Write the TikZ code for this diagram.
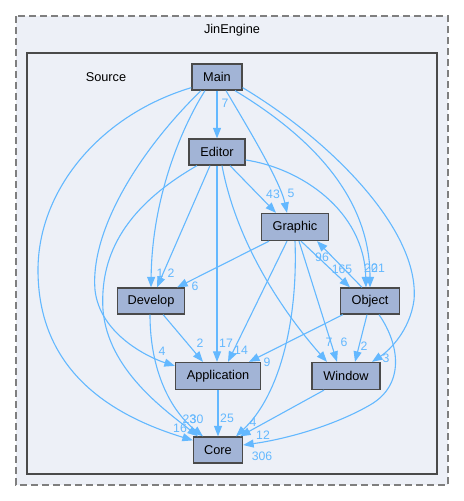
\documentclass[tikz,border=0pt]{standalone}
\usepackage{fontspec}
\setmainfont{Liberation Sans}
\usetikzlibrary{arrows.meta,calc}
\definecolor{edgec}{HTML}{63B8FF}
\definecolor{nodef}{HTML}{A2B4D6}
\definecolor{bgc}{HTML}{EDF0F7}
\definecolor{borderc}{HTML}{4A4A4A}
\definecolor{dashc}{HTML}{7F7F7F}
\begin{document}
\begin{tikzpicture}[x=1bp,y=-1bp,
  dirbox/.style={draw=borderc, fill=nodef, line width=1.3bp, inner sep=0pt,
    minimum height=26bp, font=\fontsize{12.8}{14}\selectfont},
  dep/.style={draw=edgec, line width=1.1bp, -{Triangle[length=10.5bp,width=8bp]}},
  lab/.style={text=edgec, inner sep=0pt, font=\fontsize{12.3}{14}\selectfont},
  ttl/.style={inner sep=0pt, font=\fontsize{12.8}{14}\selectfont}]
\useasboundingbox (0,0) rectangle (464,501);
% clusters
\draw[dashc, fill=bgc, line width=1.8bp, dash pattern=on 7bp off 4bp] (16,16) rectangle (448,485);
\draw[borderc, fill=bgc, line width=2bp] (27,53) rectangle (437,474);
\node[ttl] (title) at (232,30) {JinEngine};
\node[ttl] (src) at (106,77) {Source};
% nodes
\node[dirbox, minimum width=50bp] (Main) at (217,77) {Main};
\node[dirbox, minimum width=56bp] (Editor) at (217,152) {Editor};
\node[dirbox, minimum width=67bp, minimum height=27bp] (Graphic) at (295,227) {Graphic};
\node[dirbox, minimum width=67bp] (Develop) at (151,301) {Develop};
\node[dirbox, minimum width=59bp] (Object) at (370,301) {Object};
\node[dirbox, minimum width=85bp, minimum height=27bp] (Application) at (218,376) {Application};
\node[dirbox, minimum width=68bp, minimum height=27bp] (Window) at (346,376) {Window};
\node[dirbox, minimum width=49bp] (Core) at (218,450) {Core};
% edges from Main
\draw[dep] (Main.south) -- (Main.south |- Editor.north);
\draw[dep] ($(Main.south)+(9,0)$) .. controls (242,118) and (280,180) .. ($(Graphic.north)+(-8,0)$);
\draw[dep] ($(Main.south)+(18,0)$) .. controls (300,130) and (370,190) .. (Object.north);
\draw[dep] ($(Main.south east)+(0,-3)$) .. controls (330,140) and (420,230) .. (414,300)
  .. controls (410,330) and (390,350) .. ($(Window.north)+(26,0)$);
\draw[dep] ($(Main.south)+(-12,0)$) .. controls (180,130) and (152,200) .. ($(Develop.north)+(0,0)$);
\draw[dep] ($(Main.south)+(-16,0)$) .. controls (140,150) and (90,230) .. (95,290)
  .. controls (100,335) and (150,358) .. ($(Application.north west)+(0,4)$);
\draw[dep] ($(Main.south west)+(0,-3)$) .. controls (100,115) and (38,190) .. (38,270)
  .. controls (38,370) and (110,415) .. ($(Core.north west)+(0,4)$);
% edges from Editor
\draw[dep] ($(Editor.south)+(13,0)$) -- ($(Graphic.north)+(-19,0)$);
\draw[dep] ($(Editor.east)+(0,8)$) .. controls (300,168) and (364,210) .. ($(Object.north)+(-4,0)$);
\draw[dep] ($(Editor.south)+(-7,0)$) -- ($(Develop.north)+(6,0)$);
\draw[dep] (Editor.south) -- (Editor.south |- Application.north);
\draw[dep] ($(Editor.south)+(5,0)$) .. controls (238,250) and (290,320) .. ($(Window.north)+(-19,0)$);
\draw[dep] ($(Editor.south)+(-20,0)$) .. controls (120,210) and (100,260) .. (103,310)
  .. controls (108,370) and (165,410) .. ($(Core.north)+(-20,0)$);
% edges from Graphic
\draw[dep] ($(Graphic.south)+(-26,0)$) -- ($(Develop.north east)+(-8,0)$);
\draw[dep] ($(Graphic.south)+(-8,0)$) -- ($(Application.north)+(10,0)$);
\draw[dep] (Graphic.south) .. controls (298,320) and (280,395) .. ($(Core.north)+(18,0)$);
\draw[dep] ($(Graphic.south)+(4,0)$) -- ($(Window.north)+(-9,0)$);
\draw[dep] ($(Graphic.south)+(6,0)$) -- ($(Object.north)+(-20,0)$);
% edges from Object
\draw[dep] ($(Object.north)+(-8,0)$) -- ($(Graphic.south)+(22,0)$);
\draw[dep] ($(Object.south west)+(3,0)$) -- ($(Application.north)+(31,0)$);
\draw[dep] ($(Object.south)+(-3,0)$) -- ($(Window.north)+(9,0)$);
\draw[dep] ($(Object.south)+(9,0)$) .. controls (400,345) and (405,385) .. (370,405)
  .. controls (330,428) and (280,440) .. ($(Core.east)+(0,-5)$);
% other edges
\draw[dep] ($(Develop.south east)+(-22,0)$) -- ($(Application.north)+(-15,0)$);
\draw[dep] ($(Develop.south)+(-1,0)$) .. controls (150,370) and (170,410) .. ($(Core.north)+(-15,0)$);
\draw[dep] (Application.south) -- (Core.north);
\draw[dep] ($(Window.south)+(-22,0)$) -- ($(Core.north)+(22,0)$);
% labels
\node[lab] (l1) at (225,103) {7};
\node[lab] (l2) at (291,193) {5};
\node[lab] (l3) at (273,194) {43};
\node[lab] (l4) at (160,273) {1};
\node[lab] (l5) at (171,273) {2};
\node[lab] (l6) at (195,286) {6};
\node[lab] (l7) at (226,343) {17};
\node[lab] (l8) at (241,350) {14};
\node[lab] (l9) at (200,343) {2};
\node[lab] (l10) at (162,351) {4};
\node[lab] (l11) at (267,362) {9};
\node[lab] (l12) at (227,418) {25};
\node[lab] (l13) at (180,428) {16};
\node[lab] (l14) at (189.5,419) {23};
\node[lab] (l15) at (196.5,419) {30};
\node[lab] (l16) at (253,422) {4};
\node[lab] (l17) at (263,435) {12};
\node[lab] (l18) at (262,456) {306};
\node[lab] (l19) at (329,342) {7};
\node[lab] (l20) at (344,342) {6};
\node[lab] (l21) at (364,346) {2};
\node[lab] (l22) at (386,358) {3};
\node[lab] (l23) at (322,257) {96};
\node[lab] (l24) at (342,269) {165};
\node[lab] (l25) at (371,268) {20};
\node[lab] (l26) at (378,268) {21};
\end{tikzpicture}
\end{document}
